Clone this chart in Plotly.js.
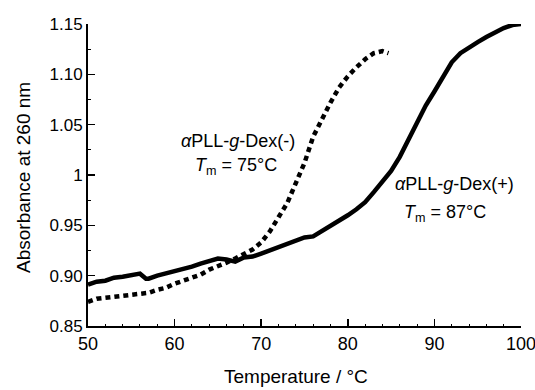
<!DOCTYPE html>
<html>
<head>
<meta charset="utf-8">
<script src="https://cdn.plot.ly/plotly-3.0.1.min.js"></script>
<style>html,body{margin:0;padding:0;background:#fff;}#chart{width:535px;height:390px;}</style>
</head>
<body>
<div id="chart"></div>
<script>
// Data
const tempPlus = [50,51,52,53,54,55,56,56.7,57,58,59,60,61,62,63,64,65,66,67,68,69,70,71,72,73,74,75,76,77,78,79,80,81,82,83,84,85,86,87,88,89,90,91,92,93,94,95,96,97,98,99,100];
const absPlus  = [0.891,0.894,0.895,0.898,0.899,0.901,0.902,0.897,0.897,0.900,0.902,0.905,0.906,0.909,0.912,0.914,0.917,0.916,0.914,0.918,0.919,0.922,0.925,0.928,0.931,0.935,0.938,0.939,0.944,0.949,0.955,0.960,0.966,0.973,0.983,0.993,1.004,1.018,1.035,1.052,1.069,1.083,1.097,1.112,1.121,1.127,1.132,1.137,1.142,1.146,1.149,1.150];

const tempMinus = [50,51,52,53,54,55,56,57,58,59,60,61,62,63,64,65,66,67,68,69,70,71,72,73,74,75,76,77,78,79,80,81,82,83,84,84.7];
const absMinus  = [0.874,0.877,0.878,0.879,0.880,0.881,0.882,0.883,0.886,0.888,0.892,0.895,0.898,0.901,0.906,0.909,0.913,0.917,0.921,0.926,0.933,0.944,0.958,0.972,0.992,1.012,1.038,1.056,1.072,1.087,1.098,1.107,1.115,1.121,1.123,1.121];

const yTickVals = [0.85,0.90,0.95,1.00,1.05,1.10,1.15];
const yTickText = ["0.85","0.90","0.95","1","1.05","1.10","1.15"];
const xTickVals = [50,60,70,80,90,100];

const FONT = "Liberation Sans, Arial, sans-serif";

const traces = [
  {x: tempPlus, y: absPlus, mode: "lines", line: {color: "#000", width: 4.5}, hoverinfo: "skip"},
  {x: tempMinus, y: absMinus, mode: "lines", line: {color: "#000", width: 4.5, dash: "5px,4px"}, hoverinfo: "skip"}
];

const layout = {
  width: 535, height: 390,
  margin: {l: 88, r: 14, t: 24, b: 64},
  paper_bgcolor: "#fff", plot_bgcolor: "#fff",
  showlegend: false,
  font: {family: FONT, color: "#000", size: 18},
  xaxis: {
    range: [50, 100], tickvals: xTickVals, ticks: "inside", ticklen: 7, tickwidth: 1.5, tickcolor: "#000",
    showline: true, linecolor: "#000", linewidth: 2, showgrid: false, zeroline: false,
    tickfont: {family: FONT, size: 18}, fixedrange: true, ticklabeloverflow: "allow",
    minor: {tickvals: [52,54,56,58,62,64,66,68,72,74,76,78,82,84,86,88,92,94,96,98], ticks: "inside", ticklen: 2, tickcolor: "#000", tickwidth: 1}
  },
  yaxis: {
    range: [0.85, 1.15], tickvals: yTickVals, ticktext: yTickText, ticks: "inside", ticklen: 7, tickwidth: 1.5, tickcolor: "#000",
    showline: true, linecolor: "#000", linewidth: 2, showgrid: false, zeroline: false,
    tickfont: {family: FONT, size: 17}, fixedrange: true, ticklabeloverflow: "allow",
    minor: {tickvals: [0.875,0.925,0.975,1.025,1.075,1.125], ticks: "inside", ticklen: 3, tickcolor: "#000", tickwidth: 1}
  },
  annotations: [
    {xref: "paper", yref: "paper", x: 0.0, y: 0.5, xanchor: "center", yanchor: "middle", xshift: -65, yshift: -3, text: "Absorbance at 260 nm", textangle: -90, showarrow: false, font: {family: FONT, size: 19}},
    {xref: "paper", yref: "paper", x: 0.0, y: 0, xanchor: "center", yanchor: "middle", xshift: 208, yshift: -50, text: "Temperature / °C", showarrow: false, font: {family: FONT, size: 19}},
    {xref: "x", yref: "y", x: 67.3, y: 1.034, text: "<i>α</i>PLL-<i>g</i>-Dex(-)", showarrow: false, xanchor: "center", yanchor: "middle", font: {family: FONT, size: 18}},
    {xref: "x", yref: "y", x: 67.1, y: 1.008, text: "<i>T</i><sub>m</sub> = 75°C", showarrow: false, xanchor: "center", yanchor: "middle", font: {family: FONT, size: 18}},
    {xref: "x", yref: "y", x: 92.3, y: 0.991, text: "<i>α</i>PLL-<i>g</i>-Dex(+)", showarrow: false, xanchor: "center", yanchor: "middle", font: {family: FONT, size: 18}},
    {xref: "x", yref: "y", x: 91.2, y: 0.962, text: "<i>T</i><sub>m</sub> = 87°C", showarrow: false, xanchor: "center", yanchor: "middle", font: {family: FONT, size: 18}}
  ]
};

Plotly.newPlot("chart", traces, layout, {staticPlot: true, displayModeBar: false});
</script>
</body>
</html>
